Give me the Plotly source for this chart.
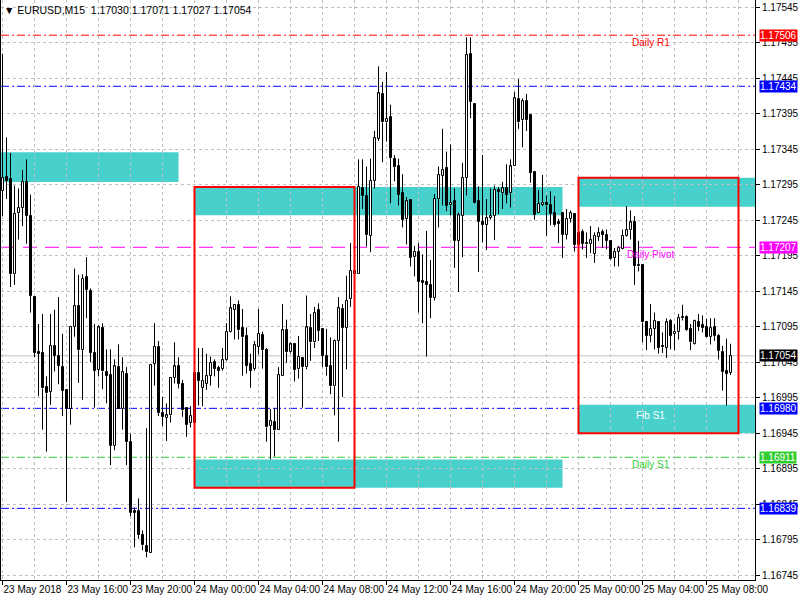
import plotly.graph_objects as go

symbol = "EURUSD"
timeframe = "M15"

open_ = [
    1.17287, 1.17306, 1.17303, 1.17169, 1.17255, 1.17263, 1.17299, 1.17251, 1.17137, 1.17059,
    1.17058, 1.17010, 1.17003, 1.17068, 1.17054, 1.17038, 1.17006, 1.16979, 1.17095, 1.17124,
    1.17062, 1.17165, 1.17146, 1.17058, 1.17034, 1.17093, 1.17031, 1.17027, 1.16927, 1.17038,
    1.16979, 1.17029, 1.16933, 1.16835, 1.16835, 1.16802, 1.16786, 1.16776, 1.17043, 1.17067,
    1.16973, 1.16967, 1.16970, 1.17023, 1.17039, 1.17015, 1.16980, 1.16960, 1.16960, 1.17030,
    1.17009, 1.17015, 1.17026, 1.17045, 1.17037, 1.17036, 1.17048, 1.17088, 1.17119, 1.17126,
    1.17093, 1.17082, 1.17043, 1.17036, 1.17067, 1.17083, 1.17062, 1.16955, 1.16961, 1.16950,
    1.17026, 1.17090, 1.17059, 1.17070, 1.17035, 1.17051, 1.17038, 1.17093, 1.17073, 1.17119,
    1.17092, 1.17054, 1.17040, 1.17011, 1.17075, 1.17120, 1.17093, 1.17134, 1.17174, 1.17170,
    1.17290, 1.17279, 1.17223, 1.17301, 1.17360, 1.17423, 1.17383, 1.17390, 1.17332, 1.17321,
    1.17283, 1.17247, 1.17274, 1.17193, 1.17201, 1.17160, 1.17158, 1.17154, 1.17136, 1.17275,
    1.17308, 1.17319, 1.17266, 1.17272, 1.17216, 1.17251, 1.17305, 1.17480, 1.17409, 1.17272,
    1.17243, 1.17239, 1.17249, 1.17251, 1.17288, 1.17283, 1.17290, 1.17283, 1.17322, 1.17416,
    1.17386, 1.17413, 1.17394, 1.17313, 1.17255, 1.17267, 1.17270, 1.17267, 1.17255, 1.17243,
    1.17255, 1.17225, 1.17247, 1.17254, 1.17210, 1.17228, 1.17213, 1.17212, 1.17198, 1.17222,
    1.17228, 1.17224, 1.17216, 1.17192, 1.17201, 1.17205, 1.17223, 1.17231, 1.17243, 1.17182,
    1.17182, 1.17101, 1.17082, 1.17092, 1.17101, 1.17068, 1.17065, 1.17103, 1.17085, 1.17088,
    1.17109, 1.17109, 1.17092, 1.17071, 1.17101, 1.17098, 1.17094, 1.17081, 1.17095, 1.17082,
    1.17059, 1.17032, 1.17030,
]
high_ = [
    1.17480, 1.17362, 1.17340, 1.17294, 1.17290, 1.17316, 1.17331, 1.17281, 1.17137, 1.17099,
    1.17113, 1.17025, 1.17113, 1.17119, 1.17137, 1.17085, 1.17006, 1.17095, 1.17177, 1.17168,
    1.17169, 1.17193, 1.17149, 1.17099, 1.17097, 1.17100, 1.17063, 1.17063, 1.17049, 1.17070,
    1.17052, 1.17038, 1.16944, 1.16840, 1.16853, 1.16808, 1.16952, 1.17041, 1.17100, 1.17075,
    1.16996, 1.16987, 1.17023, 1.17073, 1.17052, 1.17020, 1.16981, 1.16983, 1.17030, 1.17065,
    1.17065, 1.17057, 1.17053, 1.17049, 1.17040, 1.17065, 1.17100, 1.17138, 1.17127, 1.17132,
    1.17120, 1.17094, 1.17057, 1.17075, 1.17120, 1.17088, 1.17065, 1.16979, 1.16980, 1.17038,
    1.17127, 1.17105, 1.17073, 1.17071, 1.17082, 1.17052, 1.17139, 1.17113, 1.17123, 1.17128,
    1.17093, 1.17092, 1.17080, 1.17077, 1.17137, 1.17127, 1.17167, 1.17213, 1.17199, 1.17331,
    1.17331, 1.17321, 1.17332, 1.17371, 1.17462, 1.17440, 1.17454, 1.17408, 1.17337, 1.17332,
    1.17310, 1.17278, 1.17275, 1.17209, 1.17213, 1.17197, 1.17230, 1.17189, 1.17282, 1.17321,
    1.17374, 1.17342, 1.17352, 1.17290, 1.17256, 1.17326, 1.17503, 1.17503, 1.17409, 1.17293,
    1.17337, 1.17275, 1.17290, 1.17294, 1.17292, 1.17299, 1.17324, 1.17331, 1.17426, 1.17444,
    1.17417, 1.17423, 1.17394, 1.17313, 1.17288, 1.17309, 1.17280, 1.17286, 1.17279, 1.17247,
    1.17255, 1.17261, 1.17259, 1.17254, 1.17239, 1.17232, 1.17228, 1.17237, 1.17228, 1.17235,
    1.17232, 1.17232, 1.17216, 1.17206, 1.17209, 1.17232, 1.17265, 1.17259, 1.17251, 1.17216,
    1.17182, 1.17101, 1.17127, 1.17115, 1.17101, 1.17087, 1.17107, 1.17106, 1.17099, 1.17113,
    1.17126, 1.17111, 1.17099, 1.17105, 1.17113, 1.17111, 1.17106, 1.17107, 1.17107, 1.17085,
    1.17068, 1.17078, 1.17071,
]
low_ = [
    1.17251, 1.17275, 1.17151, 1.17154, 1.17218, 1.17237, 1.17212, 1.17115, 1.17052, 1.16997,
    1.16950, 1.16919, 1.16985, 1.17032, 1.17014, 1.16969, 1.16848, 1.16957, 1.17081, 1.17016,
    1.16992, 1.17107, 1.17045, 1.16981, 1.17025, 1.17007, 1.16987, 1.16900, 1.16921, 1.16979,
    1.16950, 1.16900, 1.16828, 1.16784, 1.16796, 1.16780, 1.16770, 1.16776, 1.17012, 1.16969,
    1.16955, 1.16934, 1.16960, 1.17015, 1.17008, 1.16968, 1.16940, 1.16953, 1.16960, 1.16984,
    1.16983, 1.17006, 1.17012, 1.17025, 1.17009, 1.17033, 1.17047, 1.17087, 1.17077, 1.17077,
    1.17026, 1.17029, 1.17009, 1.17033, 1.17056, 1.17036, 1.16933, 1.16908, 1.16912, 1.16950,
    1.17026, 1.17044, 1.17057, 1.17018, 1.17022, 1.16981, 1.17035, 1.17047, 1.17065, 1.17075,
    1.17038, 1.17026, 1.17000, 1.16970, 1.16933, 1.16996, 1.17035, 1.17123, 1.17131, 1.17170,
    1.17261, 1.17208, 1.17200, 1.17290, 1.17357, 1.17327, 1.17356, 1.17269, 1.17300, 1.17266,
    1.17235, 1.17211, 1.17180, 1.17166, 1.17115, 1.17100, 1.17053, 1.17107, 1.17132, 1.17235,
    1.17266, 1.17258, 1.17252, 1.17178, 1.17144, 1.17193, 1.17280, 1.17389, 1.17269, 1.17172,
    1.17214, 1.17203, 1.17246, 1.17217, 1.17254, 1.17261, 1.17269, 1.17263, 1.17322, 1.17374,
    1.17348, 1.17371, 1.17298, 1.17246, 1.17255, 1.17265, 1.17223, 1.17238, 1.17236, 1.17213,
    1.17192, 1.17218, 1.17242, 1.17201, 1.17204, 1.17204, 1.17192, 1.17199, 1.17185, 1.17216,
    1.17206, 1.17204, 1.17189, 1.17180, 1.17180, 1.17204, 1.17222, 1.17218, 1.17154, 1.17173,
    1.17073, 1.17062, 1.17073, 1.17063, 1.17057, 1.17058, 1.17051, 1.17063, 1.17062, 1.17077,
    1.17104, 1.17089, 1.17062, 1.17070, 1.17089, 1.17087, 1.17080, 1.17070, 1.17075, 1.17049,
    1.17005, 1.16984, 1.17027,
]
close_ = [
    1.17305, 1.17301, 1.17169, 1.17254, 1.17263, 1.17299, 1.17251, 1.17139, 1.17058, 1.17057,
    1.17008, 1.17001, 1.17068, 1.17054, 1.17040, 1.17005, 1.16979, 1.17095, 1.17124, 1.17062,
    1.17163, 1.17147, 1.17058, 1.17033, 1.17094, 1.17032, 1.17026, 1.16927, 1.17039, 1.16979,
    1.17031, 1.16933, 1.16833, 1.16833, 1.16802, 1.16787, 1.16777, 1.17041, 1.17067, 1.16974,
    1.16968, 1.16970, 1.17023, 1.17039, 1.17015, 1.16977, 1.16957, 1.16969, 1.17030, 1.17019,
    1.17019, 1.17026, 1.17044, 1.17036, 1.17033, 1.17048, 1.17088, 1.17121, 1.17126, 1.17090,
    1.17080, 1.17040, 1.17033, 1.17069, 1.17085, 1.17062, 1.16953, 1.16962, 1.16949, 1.17027,
    1.17090, 1.17059, 1.17070, 1.17034, 1.17053, 1.17038, 1.17094, 1.17073, 1.17115, 1.17089,
    1.17054, 1.17038, 1.17011, 1.17075, 1.17121, 1.17093, 1.17132, 1.17174, 1.17170, 1.17292,
    1.17279, 1.17224, 1.17301, 1.17361, 1.17424, 1.17383, 1.17388, 1.17333, 1.17320, 1.17281,
    1.17246, 1.17272, 1.17192, 1.17201, 1.17158, 1.17157, 1.17154, 1.17136, 1.17275, 1.17309,
    1.17316, 1.17265, 1.17270, 1.17216, 1.17252, 1.17305, 1.17478, 1.17412, 1.17270, 1.17243,
    1.17239, 1.17248, 1.17251, 1.17288, 1.17285, 1.17290, 1.17281, 1.17321, 1.17417, 1.17383,
    1.17413, 1.17386, 1.17312, 1.17253, 1.17268, 1.17270, 1.17266, 1.17254, 1.17238, 1.17240,
    1.17225, 1.17247, 1.17255, 1.17210, 1.17227, 1.17212, 1.17211, 1.17217, 1.17223, 1.17227,
    1.17225, 1.17216, 1.17190, 1.17201, 1.17206, 1.17223, 1.17231, 1.17242, 1.17181, 1.17180,
    1.17101, 1.17082, 1.17092, 1.17103, 1.17065, 1.17066, 1.17101, 1.17082, 1.17088, 1.17108,
    1.17107, 1.17090, 1.17073, 1.17103, 1.17095, 1.17093, 1.17081, 1.17093, 1.17082, 1.17061,
    1.17031, 1.17029, 1.17054,
]
bar_index = list(range(len(open_)))

# time axis labels (one every 16 bars = 4 hours)
time_tick_bars = [0, 16, 32, 48, 64, 80, 96, 112, 128, 144, 160, 176]
time_tick_labels = ["23 May 2018", "23 May 16:00", "23 May 20:00", "24 May 00:00",
                    "24 May 04:00", "24 May 08:00", "24 May 12:00", "24 May 16:00",
                    "24 May 20:00", "25 May 00:00", "25 May 04:00", "25 May 08:00"]
grid_minor_bars = [8, 24, 40, 56, 72, 88, 104, 120, 136, 152, 168, 184]

price_ticks = [1.16745, 1.16795, 1.16845, 1.16895, 1.16945, 1.16995, 1.17045, 1.17095,
               1.17145, 1.17195, 1.17245, 1.17295, 1.17345, 1.17395, 1.17445, 1.17495, 1.17545]

# horizontal levels
level_prices = [1.17506, 1.17434, 1.17207, 1.16980, 1.16911, 1.16839]
level_colors = ["#FF0000", "#0000FF", "#FF00FF", "#0000FF", "#32CD32", "#0000FF"]
level_dashes = ["8px,3px,2px,3px", "8px,3px,2px,3px", "14px,8px", "8px,3px,2px,3px",
                "8px,3px,2px,3px", "8px,3px,2px,3px"]
level_texts = ["Daily R1", "", "Daily Pivot", "Fib S1", "Daily S1", ""]
level_text_colors = ["#FF0000", "", "#FF00FF", "#FFFFFF", "#32CD32", ""]
level_text_bar = 162

# supply / demand zones (cyan)
zone_x0 = [-3, 48, 144, 48, 144]
zone_x1 = [44, 140, 192, 140, 192]
zone_top = [1.17341, 1.17292, 1.17305, 1.16908, 1.16985]
zone_bottom = [1.17299, 1.17252, 1.17264, 1.16868, 1.16945]

# red outlined boxes
box_x0 = [48, 144]
box_x1 = [88, 184]
box_top = [1.17292, 1.17305]
box_bottom = [1.16868, 1.16945]

FONT = "Liberation Sans, Arial, sans-serif"
GRID = "#C0C0C0"
MIN_BODY = 0.00001

# candle geometry derived from OHLC
body_base = [min(o, c) for o, c in zip(open_, close_)]
body_size = [max(abs(c - o), MIN_BODY) for o, c in zip(open_, close_)]
body_color = ["white" if c >= o else "black" for o, c in zip(open_, close_)]
wick_x, wick_y = [], []
for i, o, h, l, c in zip(bar_index, open_, high_, low_, close_):
    top, bot = max(o, c), min(o, c)
    wick_x += [i, i, None, i, i, None]
    wick_y += [h, top, None, bot, l, None]

fig = go.Figure()
fig.add_trace(go.Scatter(x=wick_x, y=wick_y, mode="lines",
                         line=dict(color="black", width=1),
                         hoverinfo="skip", showlegend=False, cliponaxis=True))
fig.add_trace(go.Bar(x=bar_index, y=body_size, base=body_base, width=0.5,
                     marker=dict(color=body_color, line=dict(color="black", width=1)),
                     hoverinfo="skip", showlegend=False))

for x0, x1, t, b in zip(zone_x0, zone_x1, zone_top, zone_bottom):
    fig.add_shape(type="rect", xref="x", yref="y", x0=x0, x1=x1, y0=b, y1=t,
                  fillcolor="#48D1CC", line=dict(width=0), layer="below")

for p, c, d in zip(level_prices, level_colors, level_dashes):
    fig.add_shape(type="line", xref="paper", yref="y", x0=0, x1=1, y0=p, y1=p,
                  line=dict(color=c, width=1, dash=d), layer="between")

last_price = close_[-1]
fig.add_shape(type="line", xref="paper", yref="y", x0=0, x1=1, y0=last_price, y1=last_price,
              line=dict(color=GRID, width=1), layer="between")

for x0, x1, t, b in zip(box_x0, box_x1, box_top, box_bottom):
    fig.add_shape(type="rect", xref="x", yref="y", x0=x0, x1=x1, y0=b, y1=t,
                  fillcolor="rgba(0,0,0,0)", line=dict(color="#FF0000", width=2), layer="above")

# level text labels
for p, txt, tc in zip(level_prices, level_texts, level_text_colors):
    if txt:
        fig.add_annotation(x=level_text_bar, y=p, xref="x", yref="y", text=txt,
                           showarrow=False, xanchor="center", yanchor="top", yshift=0,
                           font=dict(family=FONT, size=10, color=tc))

# right-hand price tags
tag_prices = level_prices + [last_price]
tag_colors = level_colors + ["#000000"]
for p, c in zip(tag_prices, tag_colors):
    fig.add_annotation(x=1, y=p, xref="paper", yref="y", text=f"{p:.5f}",
                       showarrow=False, xanchor="left", yanchor="middle", xshift=4,
                       bgcolor=c, borderpad=0,
                       font=dict(family=FONT, size=10, color="white"))

# header
title = "\u25BC\u00a0" + f"{symbol},{timeframe}\u00a0\u00a0{open_[-1]:.5f} {high_[-1]:.5f} {low_[-1]:.5f} {close_[-1]:.5f}"
fig.add_annotation(x=0, y=1, xref="paper", yref="paper", text=title, showarrow=False,
                   xanchor="left", yanchor="top", xshift=1, yshift=-2,
                   font=dict(family=FONT, size=10.5, color="black"))

fig.update_layout(
    width=800, height=600,
    margin=dict(l=1, r=45, t=0, b=20, pad=0),
    paper_bgcolor="white", plot_bgcolor="white",
    showlegend=False, bargap=0, bargroupgap=0,
    font=dict(family=FONT, size=10, color="black"),
    xaxis=dict(
        range=[-0.375, 188.125],
        tickmode="array", tickvals=time_tick_bars, ticktext=time_tick_labels,
        ticks="outside", ticklen=4, tickcolor="black",
        ticklabelposition="outside right", tickangle=0,
        showline=True, linecolor="black", linewidth=1,
        showgrid=True, gridcolor=GRID, griddash="3px,3px", gridwidth=1,
        minor=dict(tickvals=grid_minor_bars, showgrid=True, gridcolor=GRID,
                   griddash="3px,3px", gridwidth=1),
        zeroline=False, fixedrange=True,
        tickfont=dict(family=FONT, size=10, color="black"),
    ),
    yaxis=dict(
        side="right", range=[1.16738, 1.175556],
        tickmode="array", tickvals=price_ticks, ticktext=[f"{v:.5f}" for v in price_ticks],
        ticks="outside", ticklen=4, tickcolor="black",
        showline=True, mirror=True, linecolor="black", linewidth=1,
        showgrid=True, gridcolor=GRID, griddash="3px,3px", gridwidth=1,
        zeroline=False, fixedrange=True,
        tickfont=dict(family=FONT, size=10, color="black"),
    ),
)

fig.write_html(
    "out.html",
    config={"displayModeBar": False},
    post_script="document.body.style.margin='0';document.body.style.overflow='hidden';",
)
